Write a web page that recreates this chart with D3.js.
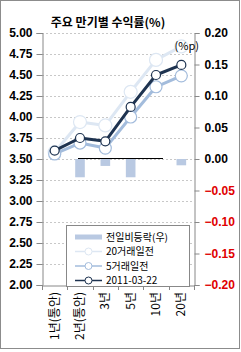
<!DOCTYPE html>
<html>
<head>
<meta charset="utf-8">
<script src="https://cdn.jsdelivr.net/npm/d3@7"></script>
<style>
  body { margin: 0; background: #fff; }
  svg { display: block; }
</style>
</head>
<body>
<div id="chart"></div>
<script>
const categories = ['1년(통안)', '2년(통안)', '3년', '5년', '10년', '20년'];
const yield20d = [3.58, 3.94, 3.90, 4.30, 4.68, 4.84];
const yield5d = [3.56, 3.69, 3.63, 4.00, 4.36, 4.49];
const yieldNow = [3.60, 3.75, 3.71, 4.12, 4.50, 4.62];
const dayChange = [0.00, -0.029, -0.011, -0.029, 0.00, -0.010];
const leftTicks = [2.00, 2.25, 2.50, 2.75, 3.00, 3.25, 3.50, 3.75, 4.00, 4.25, 4.50, 4.75, 5.00];
const rightTicks = [-0.20, -0.15, -0.10, -0.05, 0.00, 0.05, 0.10, 0.15, 0.20];

const W = 241, H = 352;
const L = 42, R = 194, T = 33, B = 285;

const svg = d3.select('#chart').append('svg')
  .attr('width', W).attr('height', H);

// outer frame
svg.append('rect')
  .attr('x', 0.5).attr('y', 0.5).attr('width', W - 2).attr('height', H - 4)
  .attr('fill', '#fff').attr('stroke', '#8c8c8c');

const x = d3.scaleBand().domain(categories).range([L, R]);
const yL = d3.scaleLinear().domain([2, 5]).range([B, T]);
const yR = d3.scaleLinear().domain([-0.2, 0.2]).range([B, T]);
const cx = d => x(d) + x.bandwidth() / 2;

// gridlines
svg.append('g').selectAll('line')
  .data(leftTicks.filter(t => t > 2))
  .join('line')
  .attr('x1', L).attr('x2', R)
  .attr('y1', d => Math.round(yL(d)) + 0.5).attr('y2', d => Math.round(yL(d)) + 0.5)
  .attr('stroke', '#c8c8c8').attr('stroke-dasharray', '2,2');

// left axis
const axL = svg.append('g')
  .attr('transform', `translate(${L + 0.5},0)`)
  .call(d3.axisLeft(yL).tickValues(leftTicks).tickFormat(d3.format('.2f')).tickSize(6).tickPadding(4));
axL.select('.domain').attr('stroke', '#888');
axL.selectAll('.tick line').attr('stroke', '#888');
axL.selectAll('text')
  .attr('font-family', '"Liberation Sans", Arial, sans-serif')
  .attr('font-size', 12).attr('font-weight', 'bold').attr('fill', '#000');

// right axis
const axR = svg.append('g')
  .attr('transform', `translate(${R + 0.5},0)`)
  .call(d3.axisRight(yR).tickValues(rightTicks).tickFormat(d3.format('.2f')).tickSize(5).tickPadding(5));
axR.select('.domain').attr('stroke', '#888');
axR.selectAll('.tick line').attr('stroke', '#888');
axR.selectAll('text')
  .attr('font-family', '"Liberation Sans", Arial, sans-serif')
  .attr('font-size', 12).attr('font-weight', 'bold')
  .attr('fill', d => d < 0 ? '#e00000' : '#000');

// bottom category axis
const axB = svg.append('g')
  .attr('transform', `translate(0,${B + 0.5})`)
  .call(d3.axisBottom(x).tickSize(0).tickFormat(''));
axB.select('.domain').attr('stroke', '#888');
svg.append('g').selectAll('line')
  .data(categories.concat(['end']))
  .join('line')
  .attr('x1', (d, i) => Math.round(L + i * x.bandwidth()) + 0.5)
  .attr('x2', (d, i) => Math.round(L + i * x.bandwidth()) + 0.5)
  .attr('y1', B).attr('y2', B + 5)
  .attr('stroke', '#888');

svg.append('g').selectAll('text')
  .data(categories)
  .join('text')
  .attr('transform', d => `translate(${cx(d) + 4},${B + 7}) rotate(-90)`)
  .attr('text-anchor', 'end')
  .attr('font-family', '"Noto Sans CJK KR", sans-serif')
  .attr('font-size', 12).attr('fill', '#000')
  .text(d => d);

// bars (right axis)
const bw = x.bandwidth() * 0.38;
svg.append('g').selectAll('rect')
  .data(dayChange.map((v, i) => ({ c: categories[i], v })))
  .join('rect')
  .attr('x', d => cx(d.c) - bw / 2)
  .attr('width', bw)
  .attr('y', d => yR(Math.max(0, d.v)))
  .attr('height', d => Math.abs(yR(d.v) - yR(0)))
  .attr('fill', '#b9c9e2');

// zero line for the secondary series
svg.append('line')
  .attr('x1', cx(categories[1]) - 2).attr('x2', cx(categories[4]) + 7)
  .attr('y1', Math.round(yR(0)) - 0.5).attr('y2', Math.round(yR(0)) - 0.5)
  .attr('stroke', '#000').attr('stroke-width', 1);

// lines
const series = [
  { name: '20거래일전', values: yield20d, color: '#dde7f3', width: 3, r: 6.5, dot: '#dde7f3' },
  { name: '5거래일전', values: yield5d, color: '#a3bcdc', width: 3, r: 6, dot: '#a3bcdc' },
  { name: '2011-03-22', values: yieldNow, color: '#1e3350', width: 3, r: 4.5, dot: '#1e3350' }
];
const line = d3.line().x(d => cx(d.c)).y(d => yL(d.v));

series.forEach(s => {
  const pts = s.values.map((v, i) => ({ c: categories[i], v }));
  const g = svg.append('g');
  g.append('path')
    .attr('d', line(pts))
    .attr('fill', 'none').attr('stroke', s.color)
    .attr('stroke-width', s.width).attr('stroke-linejoin', 'round');
  g.selectAll('circle')
    .data(pts)
    .join('circle')
    .attr('cx', d => cx(d.c)).attr('cy', d => yL(d.v))
    .attr('r', s.r)
    .attr('fill', '#fff').attr('stroke', s.dot).attr('stroke-width', 1.2);
});

// title and unit
svg.append('text')
  .attr('x', 108).attr('y', 27)
  .attr('text-anchor', 'middle')
  .attr('font-family', '"Noto Sans CJK KR", sans-serif')
  .attr('font-size', 12).attr('font-weight', 'bold').attr('fill', '#000')
  .text('주요 만기별 수익률(%)');
svg.append('text')
  .attr('x', 199).attr('y', 50)
  .attr('text-anchor', 'end')
  .attr('font-family', '"Noto Sans CJK KR", sans-serif')
  .attr('font-size', 11).attr('fill', '#000')
  .text('(%p)');

// legend
const lg = svg.append('g');
lg.append('rect')
  .attr('x', 66.5).attr('y', 225.5).attr('width', 123).attr('height', 61)
  .attr('fill', '#fff').attr('stroke', '#888');
const legendItems = [
  { name: '전일비등락(우)', type: 'bar' },
  ...series.map(s => ({ name: s.name, type: 'line', s }))
];
legendItems.forEach((d, i) => {
  const yy = 237 + i * 14.5;
  const item = lg.append('g');
  if (d.type === 'bar') {
    item.append('line')
      .attr('x1', 75).attr('x2', 102).attr('y1', yy).attr('y2', yy)
      .attr('stroke', '#b9c9e2').attr('stroke-width', 5);
  } else {
    item.append('line')
      .attr('x1', 75).attr('x2', 102).attr('y1', yy).attr('y2', yy)
      .attr('stroke', d.s.color).attr('stroke-width', 1.5);
    item.append('circle')
      .attr('cx', 88.5).attr('cy', yy).attr('r', 3.5)
      .attr('fill', '#fff').attr('stroke', d.s.dot).attr('stroke-width', 1);
  }
  item.append('text')
    .attr('x', 106).attr('y', yy + 3.5)
    .attr('font-family', '"Noto Sans CJK KR", sans-serif')
    .attr('font-size', 10).attr('fill', '#000')
    .text(d.name);
});
</script>
</body>
</html>
